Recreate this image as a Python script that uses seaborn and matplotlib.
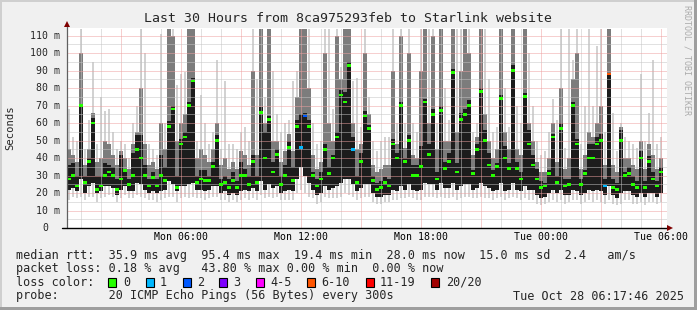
import numpy as np
import pandas as pd
import matplotlib
matplotlib.use("Agg")
import matplotlib.pyplot as plt
import matplotlib.transforms as mtransforms
from matplotlib.patches import Rectangle
import seaborn as sns

# ---------------- data ----------------
start_hour = 17 / 60 + 46 / 3600      # Mon 00:17:46
step_hours = 0.2                      # 12-minute bins
span_hours = 30

# median rtt (ms) per bin
med = [28, 30, 24, 70, 26, 38, 60, 22, 24, 30, 32, 30, 22, 28, 33, 25, 30, 45, 40, 30,
       24, 29, 24, 30, 27, 58, 68, 23, 48, 52, 70, 84, 26, 28, 27, 27, 35, 50, 25, 26,
       23, 27, 23, 30, 30, 25, 38, 26, 66, 40, 62, 32, 42, 25, 30, 46, 27, 58, 46, 64,
       58, 30, 24, 28, 45, 31, 40, 52, 76, 72, 93, 45, 26, 38, 64, 57, 27, 22, 23, 26,
       24, 48, 40, 70, 38, 50, 30, 30, 35, 72, 42, 65, 28, 67, 34, 38, 89, 32, 62, 65,
       70, 31, 45, 78, 50, 36, 30, 35, 74, 40, 34, 90, 34, 28, 75, 48, 36, 28, 23, 24,
       31, 52, 26, 57, 24, 25, 70, 48, 25, 31, 40, 40, 48, 50, 24, 88, 23, 22, 50, 30,
       31, 25, 23, 40, 23, 38, 28, 24, 32]
# smoke bottom (ms)
lo = [16, 18, 17, 18, 16, 18, 18, 15, 17, 18, 19, 18, 15, 17, 19, 17, 17, 19, 18, 17,
      16, 16, 15, 16, 17, 18, 18, 15, 17, 18, 17, 18, 17, 17, 16, 17, 18, 18, 16, 16,
      15, 16, 15, 16, 17, 16, 17, 16, 19, 17, 18, 17, 18, 16, 16, 16, 16, 20, 22, 20,
      18, 17, 14, 15, 18, 17, 17, 17, 18, 20, 19, 18, 16, 17, 18, 18, 15, 14, 14, 15,
      15, 16, 16, 17, 17, 18, 17, 16, 16, 18, 18, 18, 17, 18, 17, 17, 18, 16, 17, 18,
      18, 17, 17, 18, 17, 17, 16, 17, 18, 16, 17, 18, 17, 16, 17, 16, 16, 14, 13, 14,
      15, 16, 15, 16, 14, 15, 16, 16, 14, 15, 16, 15, 16, 15, 14, 16, 14, 13, 14, 16,
      16, 14, 14, 15, 13, 15, 15, 14, 15]
# bottom of the dark core (ms)
mlo = [22, 23, 21, 28, 20, 24, 26, 20, 21, 24, 24, 23, 19, 22, 24, 21, 21, 26, 25, 22,
       20, 21, 20, 21, 22, 27, 25, 21, 24, 24, 25, 26, 22, 22, 21, 22, 24, 24, 20, 21,
       19, 20, 19, 21, 22, 21, 23, 21, 27, 22, 25, 23, 24, 20, 21, 22, 21, 28, 35, 30,
       26, 22, 19, 20, 24, 22, 23, 24, 26, 28, 28, 25, 21, 23, 25, 25, 20, 18, 18, 19,
       19, 22, 21, 24, 22, 25, 22, 21, 22, 26, 25, 25, 22, 26, 23, 23, 26, 22, 24, 25,
       25, 22, 23, 26, 24, 23, 21, 22, 26, 21, 22, 26, 22, 21, 24, 22, 22, 19, 17, 18,
       20, 22, 20, 22, 19, 19, 22, 21, 19, 20, 22, 21, 22, 21, 19, 24, 19, 17, 20, 21,
       21, 19, 18, 20, 18, 20, 20, 18, 20]
# top of the dark core (ms)
chi = [36, 37, 30, 70, 30, 40, 63, 30, 30, 37, 36, 35, 28, 42, 34, 28, 43, 53, 53, 36,
       28, 32, 28, 42, 35, 61, 70, 30, 51, 55, 72, 86, 30, 33, 33, 30, 38, 53, 28, 30,
       28, 32, 27, 38, 34, 30, 42, 30, 69, 55, 64, 38, 45, 30, 36, 50, 35, 62, 65, 66,
       62, 32, 28, 32, 48, 35, 42, 55, 79, 78, 95, 52, 30, 43, 67, 59, 30, 26, 27, 29,
       28, 51, 43, 72, 40, 53, 36, 36, 47, 74, 48, 68, 32, 70, 38, 43, 91, 37, 66, 68,
       73, 33, 48, 80, 56, 43, 33, 37, 76, 47, 37, 93, 38, 32, 77, 56, 42, 34, 27, 26,
       33, 54, 30, 60, 28, 28, 72, 51, 28, 33, 48, 48, 52, 54, 28, 88, 28, 26, 56, 32,
       35, 30, 27, 44, 27, 41, 32, 27, 35]
# top of the medium-grey smoke (ms)
mhi = [45, 42, 38, 100, 36, 45, 66, 38, 40, 50, 48, 42, 36, 44, 40, 34, 48, 55, 80, 48,
       36, 38, 34, 60, 45, 114, 110, 50, 60, 65, 114, 114, 40, 45, 42, 38, 45, 60, 36, 40,
       34, 38, 34, 44, 42, 36, 90, 42, 114, 60, 114, 50, 50, 38, 44, 54, 44, 75, 114, 114,
       80, 42, 34, 38, 100, 60, 50, 110, 85, 114, 114, 60, 45, 48, 100, 65, 36, 32, 34, 36,
       36, 90, 48, 110, 46, 100, 42, 40, 90, 114, 60, 110, 45, 114, 50, 50, 114, 55, 90, 114,
       100, 42, 52, 114, 65, 50, 40, 45, 114, 55, 45, 114, 45, 42, 114, 60, 50, 38, 32, 32,
       40, 60, 38, 80, 34, 40, 85, 100, 34, 42, 55, 52, 60, 70, 36, 114, 36, 32, 58, 40,
       40, 36, 34, 50, 34, 48, 42, 34, 40]
# top of the light smoke (ms)
hi = [68, 52, 50, 114, 45, 62, 95, 48, 75, 67, 68, 55, 45, 50, 48, 40, 60, 70, 114, 100,
      48, 45, 42, 111, 60, 114, 114, 82, 88, 89, 114, 114, 50, 76, 60, 48, 55, 96, 45, 84,
      48, 48, 45, 55, 58, 50, 114, 85, 114, 75, 114, 90, 65, 55, 60, 62, 84, 90, 114, 114,
      114, 60, 48, 50, 114, 114, 68, 114, 92, 114, 114, 84, 86, 58, 114, 75, 50, 44, 50, 52,
      52, 114, 60, 114, 60, 114, 60, 55, 114, 114, 114, 114, 60, 114, 80, 62, 114, 114, 114, 114,
      114, 55, 60, 114, 114, 85, 55, 58, 114, 80, 58, 114, 70, 60, 114, 100, 70, 50, 42, 44,
      55, 74, 62, 114, 46, 114, 96, 114, 48, 70, 114, 70, 104, 114, 55, 114, 66, 44, 60, 52,
      50, 48, 46, 88, 50, 66, 96, 48, 52]

# bins whose median was drawn in a loss colour, and the number of lost pings
loss_steps = [58, 59, 71, 134, 135]
loss_count = [1, 2, 1, 1, 7]

xtick_hours = [6, 12, 18, 24, 30]
xtick_labels = ["Mon 06:00", "Mon 12:00", "Mon 18:00", "Tue 00:00", "Tue 06:00"]
ytick_values = [0, 10, 20, 30, 40, 50, 60, 70, 80, 90, 100, 110]
ytick_labels = ["0", "10 m", "20 m", "30 m", "40 m", "50 m", "60 m", "70 m",
                "80 m", "90 m", "100 m", "110 m"]

loss_legend = ["0", "1", "2", "3", "4-5", "6-10", "11-19", "20/20"]
loss_colors = ["#26ff00", "#00b8ff", "#0059ff", "#7e00ff", "#ff00ff",
               "#ff5500", "#ff0000", "#a10000"]

title = "Last 30 Hours from 8ca975293feb to Starlink website"
line1 = "median rtt:  35.9 ms avg  95.4 ms max  19.4 ms min  28.0 ms now  15.0 ms sd  2.4   am/s"
line2 = "packet loss: 0.18 % avg   43.80 % max 0.00 % min  0.00 % now"
line3 = "loss color:"
line4 = "probe:       20 ICMP Echo Pings (56 Bytes) every 300s"
stamp = "Tue Oct 28 06:17:46 2025"

# ---------------- figure ----------------
sns.set_style("white")
plt.rcParams["font.family"] = ["DejaVu Sans Mono"]

W, H = 697, 310
fig = plt.figure(figsize=(W / 100, H / 100), dpi=100, facecolor="#f0f0f0")
ax = fig.add_axes([67 / W, 82 / H, 600 / W, 200 / H])
ax.set_facecolor("white")


def bucket(n):
    if n <= 3:
        return loss_legend[n]
    if n <= 5:
        return "4-5"
    if n <= 10:
        return "6-10"
    if n <= 19:
        return "11-19"
    return "20/20"


n = len(med)
t_left = start_hour + step_hours * np.arange(n)
t_mid = t_left + step_hours / 2
lo_a, hi_a = np.asarray(lo, float), np.asarray(hi, float)
mlo_a, mhi_a, chi_a = np.asarray(mlo, float), np.asarray(mhi, float), np.asarray(chi, float)

# smoke: light outer smoke, medium smoke, dark core
ax.bar(t_mid, hi_a - lo_a, bottom=lo_a, width=step_hours * 0.55, color="#d2d2d2",
       linewidth=0, zorder=1)
ax.bar(t_mid, mhi_a - mlo_a, bottom=mlo_a, width=step_hours * 0.8, color="#7c7c7c",
       linewidth=0, zorder=2)
ax.bar(t_mid, chi_a - mlo_a, bottom=mlo_a, width=step_hours * 0.8, color="#1c1c1c",
       linewidth=0, zorder=3)

# grid (drawn over the smoke, like rrdtool)
dot = (0, (1, 1))
for h in range(1, 31):
    c = "#eea0a0" if h % 3 == 0 else "#c4c4c4"
    ax.axvline(h, color=c, lw=0.72, ls=dot, zorder=4)
for v in range(5, 115, 5):
    c = "#eea0a0" if v % 10 == 0 else "#c4c4c4"
    ax.axhline(v, color=c, lw=0.72, ls=dot, zorder=4)

# medians coloured by loss
buckets = ["0"] * n
for s, c in zip(loss_steps, loss_count):
    buckets[s] = bucket(c)
df = pd.DataFrame({"t": t_mid, "med": med, "loss": buckets})
palette = dict(zip(loss_legend, loss_colors))
rect = [(-1.3, -1), (1.3, -1), (1.3, 1), (-1.3, 1), (-1.3, -1)]
sns.scatterplot(data=df, x="t", y="med", hue="loss", palette=palette,
                marker=rect, s=6, linewidth=0, legend=False, ax=ax, zorder=5)

ax.set_xlim(start_hour, start_hour + span_hours)
ax.set_ylim(0, 114.3)
ax.set_xlabel("")
ax.set_ylabel("")
for sp in ax.spines.values():
    sp.set_visible(False)

ax.set_xticks(xtick_hours, xtick_labels)
ax.tick_params(axis="x", length=0, pad=3.2, labelsize=7.1, colors="black")
ax.set_yticks([])

blend = mtransforms.blended_transform_factory(ax.transAxes, ax.transData)
for v, lab in zip(ytick_values, ytick_labels):
    xr = (60 - 67) / 600 if lab != "0" else (48.5 - 67) / 600
    ax.text(xr, v, lab, transform=blend, ha="right", va="center", fontsize=7.1)

# axes lines and arrows
ax.plot([0, 0], [0, 1.012], transform=ax.transAxes, color="#606060", lw=0.9,
        clip_on=False, zorder=6)
ax.plot([-0.008, 1.003], [0, 0], transform=ax.transAxes, color="black", lw=1.0,
        clip_on=False, zorder=6)
ax.plot([0], [1.0215], transform=ax.transAxes, marker="^", ms=4.2, color="#7f0000",
        mew=0, clip_on=False, zorder=7)
ax.plot([1.0058], [0], transform=ax.transAxes, marker=">", ms=4.2, color="#7f0000",
        mew=0, clip_on=False, zorder=7)


def fx(x):
    return x / W


def fy(y):
    return 1 - y / H


fig.text(fx(347.5), fy(19), title, ha="center", va="center", fontsize=9.5)
fig.text(fx(10.5), fy(128), "Seconds", rotation=90, ha="center", va="center", fontsize=7.6)
fig.text(fx(687.5), fy(60), "RRDTOOL / TOBI OETIKER", rotation=270, ha="center",
         va="center", fontsize=6.0, color="#ababab")

fig.text(fx(16), fy(255), line1, ha="left", va="center", fontsize=8.5)
fig.text(fx(16), fy(268.5), line2, ha="left", va="center", fontsize=8.5)
fig.text(fx(16), fy(282), line3, ha="left", va="center", fontsize=8.5)
fig.text(fx(16), fy(296), line4, ha="left", va="center", fontsize=8.5)
fig.text(fx(513), fy(296), stamp, ha="left", va="center", fontsize=8.5)

sq_x = [108, 146, 183, 219, 256, 307, 366, 431]
lab_x = [123, 160, 197, 233, 270, 321, 380, 446]
for sx, lx, lab, col in zip(sq_x, lab_x, loss_legend, loss_colors):
    fig.add_artist(Rectangle((fx(sx), fy(286.5)), 8 / W, 8.5 / H, transform=fig.transFigure,
                             facecolor=col, edgecolor="black", lw=0.8))
    fig.text(fx(lx), fy(282), lab, ha="left", va="center", fontsize=8.5)

# 3-D frame like rrdtool
fig.add_artist(Rectangle((0, 1 - 2 / H), 1, 2 / H, transform=fig.transFigure,
                         facecolor="#cfcfcf", lw=0))
fig.add_artist(Rectangle((0, 0), 2 / W, 1, transform=fig.transFigure,
                         facecolor="#cfcfcf", lw=0))
fig.add_artist(Rectangle((0, 0), 1, 3 / H, transform=fig.transFigure,
                         facecolor="#9e9e9e", lw=0))
fig.add_artist(Rectangle((1 - 3 / W, 0), 3 / W, 1, transform=fig.transFigure,
                         facecolor="#9e9e9e", lw=0))

fig.savefig("out.png", dpi=100, facecolor=fig.get_facecolor())
